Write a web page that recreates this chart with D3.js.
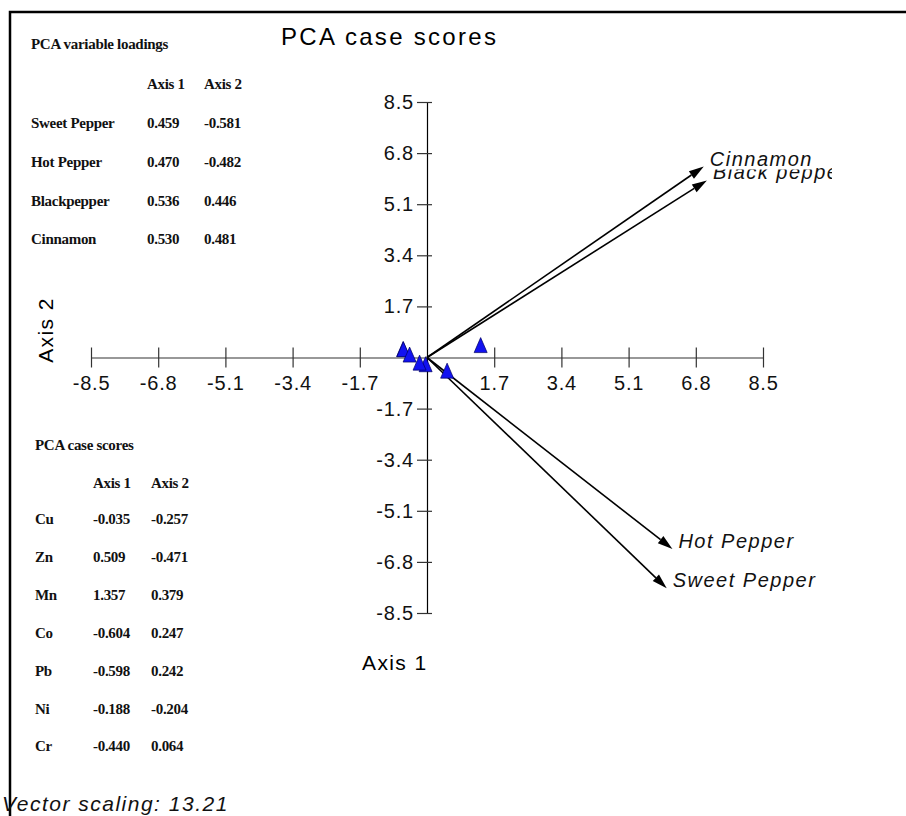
<!DOCTYPE html>
<html>
<head>
<meta charset="utf-8">
<script src="https://cdn.jsdelivr.net/npm/d3@7"></script>
<style>
  body { margin: 0; background: #fff; }
  svg { display: block; }
</style>
</head>
<body>
<svg id="chart"></svg>
<script>
// variables and their loadings
var variables = ["Sweet Pepper", "Hot Pepper", "Blackpepper", "Cinnamon"];
var arrowLabels = ["Sweet Pepper", "Hot Pepper", "Black pepper", "Cinnamon"];
var loadAxis1 = [0.459, 0.470, 0.536, 0.530];
var loadAxis2 = [-0.581, -0.482, 0.446, 0.481];

// cases and their scores
var cases = ["Cu", "Zn", "Mn", "Co", "Pb", "Ni", "Cr"];
var scoreAxis1 = [-0.035, 0.509, 1.357, -0.604, -0.598, -0.188, -0.440];
var scoreAxis2 = [-0.257, -0.471, 0.379, 0.247, 0.242, -0.204, 0.064];

var vectorScaling = 13.21;
var tickValues = [-8.5, -6.8, -5.1, -3.4, -1.7, 1.7, 3.4, 5.1, 6.8, 8.5];

var W = 906, H = 816;
var svg = d3.select("#chart").attr("width", W).attr("height", H);
svg.append("rect").attr("width", W).attr("height", H).attr("fill", "#fff");

// frame
svg.append("path")
  .attr("d", "M10,816 L10,12 L906,12")
  .attr("fill", "none").attr("stroke", "#000").attr("stroke-width", 2.5);

var sans = "'Liberation Sans', Arial, sans-serif";
var serif = "'Liberation Serif', 'Times New Roman', serif";
var fmt = function(d) { return d.toFixed(1); }; // plain hyphen minus like the original

// scales
var x = d3.scaleLinear().domain([-8.5, 8.5]).range([91, 763]);
var y = d3.scaleLinear().domain([-8.5, 8.5]).range([613, 102]);

// title
svg.append("text")
  .attr("x", 281).attr("y", 45)
  .style("font-family", sans).style("font-size", "24px")
  .style("letter-spacing", "2.3px")
  .text("PCA case scores");

// horizontal axis
var gx = svg.append("g")
  .attr("transform", "translate(0," + y(0) + ")")
  .call(d3.axisBottom(x).tickValues(tickValues).tickSize(10).tickSizeOuter(0).tickPadding(8)
    .tickFormat(fmt));
gx.select(".domain").attr("stroke", "#333").attr("stroke-width", 1.2);
gx.selectAll(".tick line").attr("y1", -10).attr("y2", 10).attr("stroke", "#333").attr("stroke-width", 1.2);
gx.selectAll(".tick text")
  .style("font-family", sans).style("font-size", "20px").style("letter-spacing", "0.8px")
  .attr("fill", "#111");

// vertical axis
var gy = svg.append("g")
  .attr("transform", "translate(" + x(0) + ",0)")
  .call(d3.axisLeft(y).tickValues(tickValues).tickSize(10).tickSizeOuter(0).tickPadding(3)
    .tickFormat(fmt));
gy.select(".domain").attr("stroke", "#000").attr("stroke-width", 1.2);
gy.selectAll(".tick line").attr("x1", 5).attr("stroke", "#333").attr("stroke-width", 1.2);
gy.selectAll(".tick text")
  .style("font-family", sans).style("font-size", "20px").style("letter-spacing", "0.8px")
  .attr("fill", "#111");

// axis titles
svg.append("text")
  .attr("transform", "translate(53,330) rotate(-90)")
  .attr("text-anchor", "middle")
  .style("font-family", sans).style("font-size", "21px").style("letter-spacing", "1.4px")
  .text("Axis 2");
svg.append("text")
  .attr("x", 362).attr("y", 670)
  .style("font-family", sans).style("font-size", "21px").style("letter-spacing", "1.4px")
  .text("Axis 1");

// vectors
var clip = svg.append("clipPath").attr("id", "vclip");
clip.append("rect").attr("x", 0).attr("y", 0).attr("width", 832).attr("height", H);
var vg = svg.append("g").attr("clip-path", "url(#vclip)");

var vecData = variables.map(function(v, i) {
  return { label: arrowLabels[i], a1: loadAxis1[i] * vectorScaling, a2: loadAxis2[i] * vectorScaling };
});

vecData.forEach(function(d) {
  var x0 = x(0), y0 = y(0), x1 = x(d.a1), y1 = y(d.a2);
  var ang = Math.atan2(y1 - y0, x1 - x0);
  var len = 15, hw = 4.5;
  var bx = x1 - len * Math.cos(ang), by = y1 - len * Math.sin(ang);
  vg.append("line")
    .attr("x1", x0).attr("y1", y0).attr("x2", bx).attr("y2", by)
    .attr("stroke", "#000").attr("stroke-width", 1.6);
  vg.append("path")
    .attr("d", "M" + x1 + "," + y1 +
      "L" + (bx + hw * Math.sin(ang)) + "," + (by - hw * Math.cos(ang)) +
      "L" + (bx - hw * Math.sin(ang)) + "," + (by + hw * Math.cos(ang)) + "Z")
    .attr("fill", "#000");
});

// vector labels (Cinnamon drawn last, its white box hides the top of Black pepper)
[2, 1, 0, 3].forEach(function(i) {
  var d = vecData[i];
  var t = vg.append("text")
    .attr("x", x(d.a1) + 6).attr("y", y(d.a2) - 1)
    .style("font-family", sans).style("font-style", "italic")
    .style("font-size", "20px").style("letter-spacing", "1.5px")
    .attr("fill", "#111")
    .text(d.label);
  if (i === 3) {
    var bb = t.node().getBBox();
    vg.insert("rect", function() { return t.node(); })
      .attr("x", bb.x).attr("y", bb.y + 2).attr("width", bb.width).attr("height", bb.height - 2)
      .attr("fill", "#fff");
  }
});

// case score points
var tri = function(cx, cy) {
  return "M" + cx + "," + (cy - 8.5) + "L" + (cx + 6.5) + "," + (cy + 6.5) + "L" + (cx - 6.5) + "," + (cy + 6.5) + "Z";
};
svg.selectAll("path.pt")
  .data(cases.map(function(c, i) { return { name: c, a1: scoreAxis1[i], a2: scoreAxis2[i] }; }))
  .enter().append("path")
  .attr("class", "pt")
  .attr("d", function(d) { return tri(x(d.a1), y(d.a2)); })
  .attr("fill", "#1212f0")
  .attr("stroke", "#000060").attr("stroke-width", 0.7);

// tables
function table(top, title, header, names, c1, c2, xs, rowY) {
  var g = svg.append("g")
    .style("font-family", serif).style("font-size", "15px")
    .style("font-weight", "bold").style("letter-spacing", "-0.3px")
    .attr("fill", "#111");
  g.append("text").attr("x", xs[0]).attr("y", top).text(title);
  g.append("text").attr("x", xs[1]).attr("y", header).text("Axis 1");
  g.append("text").attr("x", xs[2]).attr("y", header).text("Axis 2");
  names.forEach(function(n, i) {
    var yy = rowY(i);
    g.append("text").attr("x", xs[0]).attr("y", yy).text(n);
    g.append("text").attr("x", xs[1]).attr("y", yy).text(c1[i].toFixed(3));
    g.append("text").attr("x", xs[2]).attr("y", yy).text(c2[i].toFixed(3));
  });
}

table(49, "PCA variable loadings", 89, variables, loadAxis1, loadAxis2,
  [31, 147, 204], function(i) { return 128 + i * 38.8; });
table(450, "PCA case scores", 488, cases, scoreAxis1, scoreAxis2,
  [35, 93, 151], function(i) { return 524 + i * 37.9; });

// footer
svg.append("text")
  .attr("x", 2).attr("y", 811)
  .style("font-family", sans).style("font-style", "italic")
  .style("font-size", "21px").style("letter-spacing", "1.5px")
  .attr("fill", "#111")
  .text("Vector scaling: " + vectorScaling);
</script>
</body>
</html>
